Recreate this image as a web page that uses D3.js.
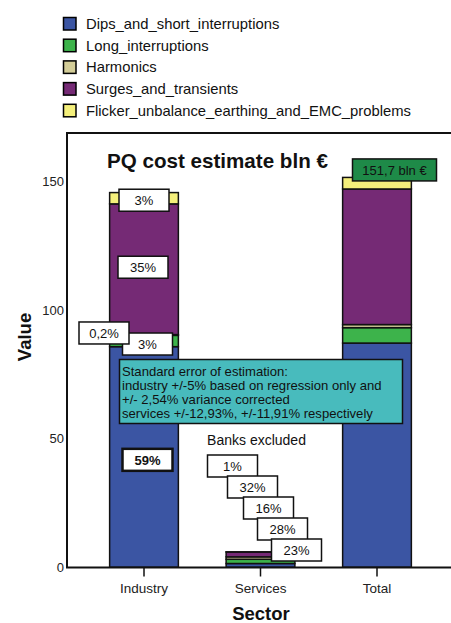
<!DOCTYPE html>
<html>
<head>
<meta charset="utf-8">
<script src="https://cdn.jsdelivr.net/npm/d3@7"></script>
<style>
  html, body { margin: 0; padding: 0; background: #fff; }
  svg { display: block; font-family: "Liberation Sans", Arial, sans-serif; }
</style>
</head>
<body>
<svg id="chart" width="451" height="623"></svg>
<script>
// Power-quality cost estimate per sector, stacked by problem type (bln €)
const sectors = ["Industry", "Services", "Total"];
const seriesNames = [
  "Dips_and_short_interruptions",
  "Long_interruptions",
  "Harmonics",
  "Surges_and_transients",
  "Flicker_unbalance_earthing_and_EMC_problems"
];
const seriesColors = ["#3b55a3", "#3db34b", "#d3cd98", "#752a75", "#f4ef7b"];

// values per sector, in the same order as seriesNames
const industryValues = [85.8, 4.4, 0.3, 50.9, 4.4];
const servicesValues = [1.36, 1.65, 0.94, 1.89, 0.06];
const totalValues    = [87.2, 6.0, 1.2, 52.8, 4.5];

// share labels, in the same order as seriesNames
const industryShares = ["59%", "3%", "0,2%", "35%", "3%"];
const servicesShares = ["23%", "28%", "16%", "32%", "1%"];
const totalLabel = "151,7 bln €";

const yTicks = [0, 50, 100, 150];

const svg = d3.select("#chart");
const plot = { left: 67, top: 133, right: 451, bottom: 567 };

const x = d3.scaleBand()
  .domain(sectors)
  .range([85.75, 435.25])
  .paddingInner(0.41)
  .paddingOuter(0.205);

const y = d3.scaleLinear()
  .domain([0, 169])
  .range([plot.bottom, plot.top]);

// stacked table built from the arrays
const table = sectors.map((s, i) => {
  const vals = [industryValues, servicesValues, totalValues][i];
  const row = { sector: s };
  seriesNames.forEach((n, k) => row[n] = vals[k]);
  return row;
});
const stacked = d3.stack().keys(seriesNames)(table);

// ---- legend ----
const legend = svg.append("g").attr("transform", "translate(63,17)");
seriesNames.forEach((n, i) => {
  const g = legend.append("g").attr("transform", `translate(0,${i * 21.7})`);
  g.append("rect").attr("x", 0.5).attr("y", 0.5).attr("width", 12.5).attr("height", 12.5)
    .attr("fill", seriesColors[i]).attr("stroke", "#000").attr("stroke-width", 1.5);
  g.append("text").attr("x", 23).attr("y", 12).attr("font-size", 14.8).attr("fill", "#111").text(n);
});

// ---- frame ----
svg.append("path")
  .attr("d", `M${plot.right},${plot.top}H${plot.left}V${plot.bottom + 0.5}H${plot.right}`)
  .attr("fill", "none").attr("stroke", "#111").attr("stroke-width", 2);

// ---- bars ----
const layers = svg.append("g").selectAll("g").data(stacked).join("g")
  .attr("fill", (d, i) => seriesColors[i]);
layers.selectAll("rect").data(d => d).join("rect")
  .attr("x", d => x(d.data.sector))
  .attr("width", x.bandwidth())
  .attr("y", d => y(d[1]))
  .attr("height", d => y(d[0]) - y(d[1]))
  .attr("stroke", "#111").attr("stroke-width", 1.5);

// ---- y axis labels (no tick marks) ----
const yAxis = svg.append("g").attr("transform", `translate(${plot.left},0)`)
  .call(d3.axisLeft(y).tickValues(yTicks).tickSize(0).tickPadding(3));
yAxis.select(".domain").remove();
yAxis.selectAll("text").attr("font-size", 13).attr("fill", "#222")
  .attr("font-family", "'Liberation Sans', Arial, sans-serif");

// ---- x axis ----
const xAxis = svg.append("g").attr("transform", `translate(0,${plot.bottom + 0.5})`)
  .call(d3.axisBottom(x).tickSize(9).tickPadding(7));
xAxis.select(".domain").remove();
xAxis.selectAll("line").attr("stroke", "#111").attr("stroke-width", 1.5);
xAxis.selectAll("text").attr("font-size", 13.5).attr("fill", "#222")
  .attr("font-family", "'Liberation Sans', Arial, sans-serif");

// ---- axis titles ----
svg.append("text").attr("x", 261).attr("y", 620).attr("text-anchor", "middle")
  .attr("font-size", 18.5).attr("font-weight", "bold").attr("fill", "#111").text("Sector");
svg.append("text").attr("transform", "translate(31,337) rotate(-90)").attr("text-anchor", "middle")
  .attr("font-size", 18.5).attr("font-weight", "bold").attr("fill", "#111").text("Value");

// ---- chart title ----
svg.append("text").attr("x", 107).attr("y", 168).attr("font-size", 20.6)
  .attr("font-weight", "bold").attr("fill", "#111").text("PQ cost estimate bln €");

// ---- standard error note ----
const noteLines = [
  "Standard error of estimation:",
  "industry +/-5% based on regression only and",
  "+/- 2,54% variance corrected",
  "services +/-12,93%, +/-11,91% respectively"
];
svg.append("rect").attr("x", 119.5).attr("y", 359.5).attr("width", 283).attr("height", 64)
  .attr("fill", "#48bbbd").attr("stroke", "#111").attr("stroke-width", 1.5);
noteLines.forEach((t, i) => {
  svg.append("text").attr("x", 122).attr("y", 375.5 + i * 14).attr("font-size", 13.1)
    .attr("fill", "#111").text(t);
});

// ---- label box helper ----
function labelBox(cx, cy, text, opts = {}) {
  const w = opts.w || 50, h = opts.h || 22;
  svg.append("rect").attr("x", cx - w / 2).attr("y", cy - h / 2).attr("width", w).attr("height", h)
    .attr("fill", opts.fill || "#fff").attr("stroke", "#111").attr("stroke-width", opts.sw || 1.5);
  svg.append("text").attr("x", cx).attr("y", cy + 5).attr("text-anchor", "middle")
    .attr("font-size", opts.fs || 13).attr("font-weight", opts.bold ? "bold" : "normal")
    .attr("fill", "#111").text(text);
}

// industry share labels, anchored to segment midpoints
const indCenter = x("Industry") + x.bandwidth() / 2;
const indOffsets = [[3.5, 3, true], [3.5, 3, false], [-40, -2, false], [-1, -2, false], [0, 2, false]];
stacked.forEach((layer, k) => {
  const seg = layer[0];
  const mid = y((seg[0] + seg[1]) / 2);
  const [dx, dy, bold] = indOffsets[k];
  labelBox(indCenter + dx, mid + dy, industryShares[k], { bold, sw: bold ? 2.5 : 1.5 });
});

// services share labels, cascading down toward the bar
const svcCenter = x("Services") + x.bandwidth() / 2;
svg.append("text").attr("x", svcCenter - 4).attr("y", 445).attr("text-anchor", "middle")
  .attr("font-size", 14).attr("fill", "#111").text("Banks excluded");
const cascadeDx = [-28, -8, 8, 22, 36];
for (let i = 0; i < 5; i++) {
  const k = 4 - i; // top of stack first
  labelBox(svcCenter + cascadeDx[i], 466 + i * 21, servicesShares[k]);
}

// total label
const totTop = d3.sum(totalValues);
labelBox(x("Total") + x.bandwidth() / 2 + 17.5, y(totTop) - 7.5, totalLabel,
  { w: 84, h: 22, fill: "#1e8a48" });
</script>
</body>
</html>
